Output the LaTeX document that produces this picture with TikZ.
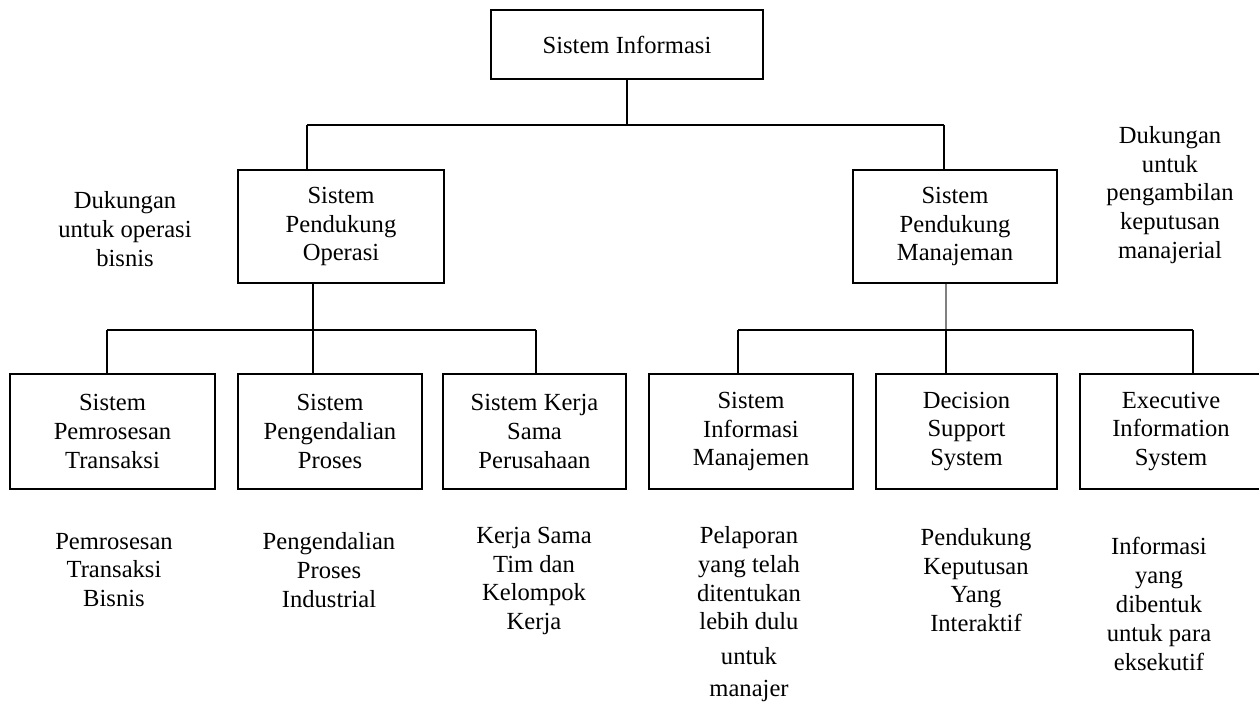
\documentclass[tikz,border=0pt]{standalone}
\usepackage{fontspec}
\setmainfont{Liberation Serif}
\usetikzlibrary{positioning}

\begin{document}
\begin{tikzpicture}[
  x=0.02cm, y=-0.02cm,
  box/.style={rectangle, draw, line width=0.8pt, align=center, inner sep=2pt, font=\fontsize{14}{16.4}\selectfont},
  note/.style={align=center, inner sep=0pt, font=\fontsize{14}{16.4}\selectfont},
  link/.style={line width=0.8pt}
]
  \useasboundingbox (0,0) rectangle (1259,705);

  % level 0 and 1
  \node[box, minimum width=5.44cm, minimum height=1.38cm] (si) at (627,44.5) {Sistem Informasi};
  \node[box, minimum width=4.12cm, minimum height=2.26cm] (spo) at (341,226.5) {Sistem\\Pendukung\\Operasi};
  \node[box, minimum width=4.08cm, minimum height=2.26cm] (spm) at (955,226.5) {Sistem\\Pendukung\\Manajeman};

  \node[note] (nOps) at (125,229) {Dukungan\\untuk operasi\\bisnis};
  \node[note] (nMgr) at (1170,195) {Dukungan\\untuk\\pengambilan\\keputusan\\manajerial};

  % level 2
  \node[box, minimum width=4.10cm, minimum height=2.3cm] (b1) at (112.5,431.5) {Sistem\\Pemrosesan\\Transaksi};
  \node[box, minimum width=3.68cm, minimum height=2.3cm] (b2) at (330,431.5) {Sistem\\Pengendalian\\Proses};
  \node[box, minimum width=3.66cm, minimum height=2.3cm] (b3) at (534.5,431.5) {Sistem Kerja\\Sama\\Perusahaan};
  \node[box, minimum width=4.08cm, minimum height=2.3cm] (b4) at (751,431.5) {Sistem\\Informasi\\Manajemen};
  \node[box, minimum width=3.62cm, minimum height=2.3cm] (b5) at (966.5,431.5) {Decision\\Support\\System};
  \node[box, minimum width=3.64cm, minimum height=2.3cm] (b6) at (1171,431.5) {Executive\\Information\\System};

  \node[note] (n1) at (114,570) {Pemrosesan\\Transaksi\\Bisnis};
  \node[note] (n2) at (329,570) {Pengendalian\\Proses\\Industrial};
  \node[note] (n3) at (534,581) {Kerja Sama\\Tim dan\\Kelompok\\Kerja};
  \node[note] (n4) at (749,614) {Pelaporan\\yang telah\\ditentukan\\lebih dulu\\[3pt]untuk\\[2pt]manajer};
  \node[note] (n5) at (976,580) {Pendukung\\Keputusan\\Yang\\Interaktif};
  \node[note] (n6) at (1159,604) {Informasi\\yang\\dibentuk\\untuk para\\eksekutif};

  % connectors
  \coordinate (t1) at (627,125);
  \coordinate (l1) at (307,125);
  \coordinate (r1) at (944,125);
  \draw[link] (si.south) -- (t1) (l1) -- (r1);
  \draw[link] (l1) -- (l1 |- spo.north);
  \draw[link] (r1) -- (r1 |- spm.north);

  \coordinate (a1) at (107,330);
  \coordinate (a2) at (313,330);
  \coordinate (a3) at (536,330);
  \coordinate (c1) at (738,330);
  \coordinate (c2) at (946,330);
  \coordinate (c3) at (1193,330);
  \draw[link] (a2 |- spo.south) -- (a2);
  \draw[link, gray] (c2 |- spm.south) -- (c2);
  \draw[link] (a1) -- (a3) (c1) -- (c3);
  \foreach \c/\b in {a1/b1, a2/b2, a3/b3, c1/b4, c2/b5, c3/b6}
    \draw[link] (\c) -- (\c |- \b.north);
\end{tikzpicture}
\end{document}
